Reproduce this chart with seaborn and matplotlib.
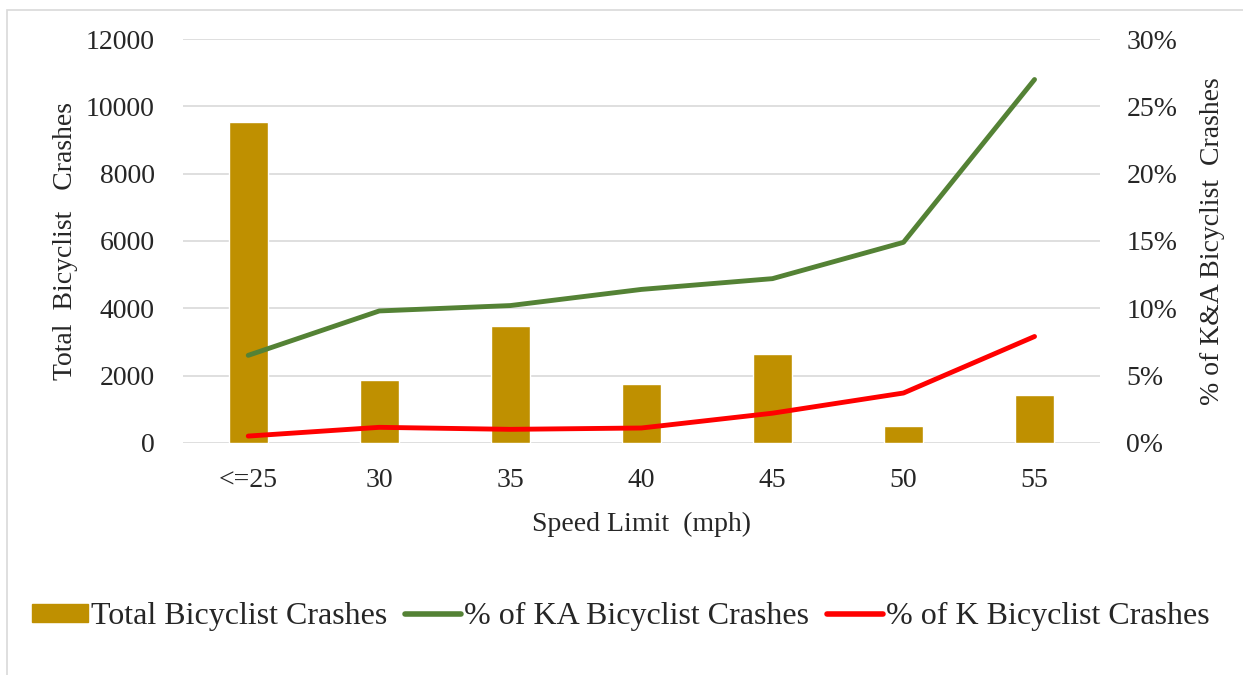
import numpy as np
import pandas as pd
import matplotlib.pyplot as plt
import matplotlib.patches as mpatches
from matplotlib.lines import Line2D
from matplotlib.ticker import FuncFormatter
import seaborn as sns

speed_limits = ["<=25", "30", "35", "40", "45", "50", "55"]
total_crashes = [9550, 1870, 3460, 1745, 2635, 490, 1430]
pct_ka = [6.5, 9.8, 10.2, 11.4, 12.2, 14.9, 27.0]
pct_k = [0.5, 1.15, 1.0, 1.1, 2.2, 3.7, 7.9]

BAR_COLOR = "#BF9000"
KA_COLOR = "#548235"
K_COLOR = "#FF0000"
GRID = "#D9D9D9"
TEXT = "#262626"

sns.set_style("white")
plt.rcParams["font.family"] = ["Liberation Serif", "DejaVu Serif"]

df = pd.DataFrame({"speed": speed_limits, "total": total_crashes,
                   "ka": pct_ka, "k": pct_k, "pos": np.arange(len(speed_limits))})

fig = plt.figure(figsize=(12.43, 6.75), dpi=100)
ax = fig.add_axes([0.147, 0.344, 0.738, 0.598])

sns.barplot(data=df, x="speed", y="total", color=BAR_COLOR, width=0.3,
            saturation=1, ax=ax, zorder=2)
ax.set_ylim(0, 12000)
ax.set_yticks(range(0, 12001, 2000))
ax.yaxis.grid(True, color=GRID, linewidth=1.2, zorder=0)
ax.set_axisbelow(True)
for s in ax.spines.values():
    s.set_visible(False)
ax.tick_params(axis="both", length=0, labelsize=20, colors=TEXT)
ax.tick_params(axis="x", pad=18)
ax.tick_params(axis="y", pad=20)
ax.set_xlabel("Speed Limit  (mph)", fontsize=20, color=TEXT, labelpad=14)
ax.set_ylabel("Total  Bicyclist   Crashes", fontsize=20, color=TEXT, labelpad=6)

ax2 = ax.twinx()
sns.lineplot(data=df, x="pos", y="ka", color=KA_COLOR, linewidth=3.5, ax=ax2)
sns.lineplot(data=df, x="pos", y="k", color=K_COLOR, linewidth=3.5, ax=ax2)
ax2.set_ylim(0, 30)
ax2.set_yticks(range(0, 31, 5))
ax2.yaxis.set_major_formatter(FuncFormatter(lambda v, p: f"{int(v)}%"))
for s in ax2.spines.values():
    s.set_visible(False)
ax2.tick_params(axis="y", length=0, labelsize=20, colors=TEXT, pad=19)
ax2.set_ylabel("% of K&A Bicyclist  Crashes", fontsize=20, color=TEXT, labelpad=16)
ax2.set_xlabel("")
ax.set_xlim(-0.5, len(speed_limits) - 0.5)

handles = [
    mpatches.Patch(color=BAR_COLOR, label="Total Bicyclist Crashes"),
    Line2D([], [], color=KA_COLOR, linewidth=4, label="% of KA Bicyclist Crashes"),
    Line2D([], [], color=K_COLOR, linewidth=4, label="% of K Bicyclist Crashes"),
]
fig.legend(handles=handles, loc="center", bbox_to_anchor=(0.4996, 0.086), ncol=3,
           frameon=False, fontsize=23, handlelength=1.75, handleheight=0.5,
           handletextpad=0.1, columnspacing=0.55, labelcolor=TEXT)

# chart border
fig.patches.append(mpatches.Rectangle((7 / 1243, -0.05), 1.1, 1 - 10 / 675 + 0.05,
                                      transform=fig.transFigure, fill=False,
                                      edgecolor=GRID, linewidth=1.2))

fig.savefig("out.png", dpi=100)
